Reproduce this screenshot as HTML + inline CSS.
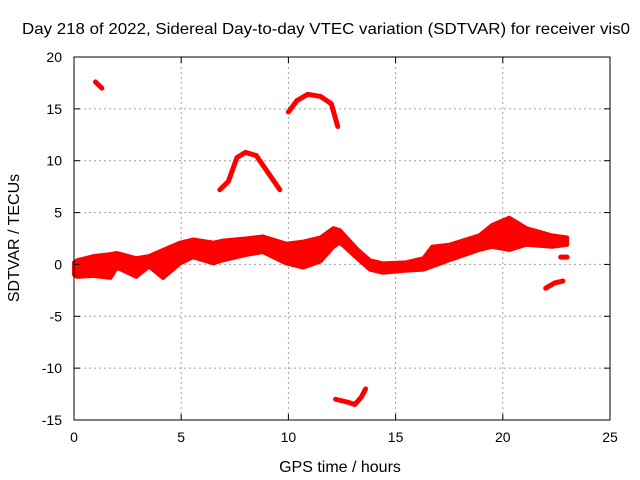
<!DOCTYPE html>
<html><head><meta charset="utf-8"><style>
body{margin:0;background:#fff}
svg{display:block;font-family:"Liberation Sans",sans-serif}
</style></head><body>
<svg id="chart" width="640" height="480">
<text x="326" y="34" font-size="16" text-anchor="middle" textLength="608" lengthAdjust="spacingAndGlyphs">Day 218 of 2022, Sidereal Day-to-day VTEC variation (SDTVAR) for receiver vis0</text>
<text x="340" y="472" font-size="16" text-anchor="middle">GPS time / hours</text>
<text transform="translate(19,238) rotate(-90)" font-size="16" text-anchor="middle">SDTVAR / TECUs</text>
<g id="grid"></g><g id="marks"></g><g id="axes"></g>
</svg>
<script>
const xTicks=[0,5,10,15,20,25];
const yTicks=[-15,-10,-5,0,5,10,15,20];
const bandHours=[0,0.14,0.9,1.7,2.0,2.9,3.5,4.15,4.95,5.55,6.5,6.95,8.0,8.8,9.9,10.7,11.5,12.1,12.4,13.2,13.8,14.4,15.5,16.3,16.7,17.5,18.9,19.5,20.3,21.1,22.3,23.0];
const bandUpper=[0.2,0.4,0.8,1.0,1.1,0.6,0.8,1.4,2.1,2.4,2.1,2.3,2.5,2.7,2.0,2.2,2.6,3.5,3.3,1.5,0.4,0.1,0.2,0.6,1.7,1.9,2.8,3.8,4.5,3.5,2.8,2.6];
const bandLower=[-1.0,-1.2,-1.1,-1.3,-0.3,-1.2,-0.2,-1.3,0.1,0.7,0.1,0.4,0.9,1.2,0.1,-0.3,0.3,1.7,2.1,0.6,-0.5,-0.8,-0.6,-0.5,-0.2,0.4,1.4,1.7,1.4,1.9,1.7,1.9];
const segAHours=[1.0,1.15,1.3];
const segAValues=[17.6,17.3,17.0];
const segBHours=[6.8,7.2,7.6,8.0,8.5,9.0,9.6];
const segBValues=[7.2,8.0,10.3,10.8,10.5,9.0,7.2];
const segCHours=[10.0,10.4,10.9,11.5,12.0,12.3];
const segCValues=[14.7,15.8,16.4,16.2,15.5,13.3];
const segDHours=[12.2,12.8,13.1,13.4,13.6];
const segDValues=[-13.0,-13.3,-13.5,-12.8,-12.0];
const segEHours=[22.0,22.4,22.8];
const segEValues=[-2.3,-1.8,-1.6];
const segFHours=[22.7,23.0];
const segFValues=[0.7,0.7];
const X0=74,X1=610,Y0=420,Y1=57;
const sx=h=>X0+(h-0)/(25-0)*(X1-X0);
const sy=v=>Y0-(v+15)/(35)*(Y0-Y1);
const NS="http://www.w3.org/2000/svg";
function mk(t,a,p){const e=document.createElementNS(NS,t);for(const k in a)e.setAttribute(k,a[k]);p.appendChild(e);return e;}
const grid=document.getElementById('grid'),axes=document.getElementById('axes'),marks=document.getElementById('marks');
xTicks.forEach(t=>{const x=sx(t);
 if(t>0&&t<25){const g=mk('line',{x1:x,x2:x,y1:Y1,y2:Y0,stroke:'#a0a0a0','stroke-dasharray':'2,3'},grid);
 
 }
 mk('line',{x1:x,x2:x,y1:Y0,y2:Y0-6,stroke:'#000'},axes);mk('line',{x1:x,x2:x,y1:Y1,y2:Y1+6,stroke:'#000'},axes);
 const l=mk('text',{x:x,y:Y0+22,'font-size':14,'text-anchor':'middle'},axes);l.textContent=t;
 
 });
yTicks.forEach(t=>{const y=sy(t);
 if(t>-15&&t<20){const g=mk('line',{x1:X0,x2:X1,y1:y,y2:y,stroke:'#a0a0a0','stroke-dasharray':'2,3'},grid);
 
 }
 mk('line',{x1:X0,x2:X0+6,y1:y,y2:y,stroke:'#000'},axes);mk('line',{x1:X1,x2:X1-6,y1:y,y2:y,stroke:'#000'},axes);
 const l=mk('text',{x:X0-12,y:y+5,'font-size':14,'text-anchor':'end'},axes);l.textContent=t;
 
 });
const b=mk('rect',{x:X0,y:Y1,width:X1-X0,height:Y0-Y1,fill:'none',stroke:'#000'},axes);


let pts=bandHours.map((h,i)=>sx(h)+','+sy(bandUpper[i]));
for(let i=bandHours.length-1;i>=0;i--)pts.push(sx(bandHours[i])+','+sy(bandLower[i]));
const band=mk('polygon',{points:pts.join(' '),fill:'#ff0000',stroke:'#ff0000','stroke-width':4,'stroke-linejoin':'round'},marks);


[[segAHours,segAValues,'segment-a'],[segBHours,segBValues,'segment-b'],[segCHours,segCValues,'segment-c'],[segDHours,segDValues,'segment-d'],[segEHours,segEValues,'segment-e'],[segFHours,segFValues,'segment-f']].forEach(s=>{
 const p=mk('polyline',{points:s[0].map((h,i)=>sx(h)+','+sy(s[1][i])).join(' '),fill:'none',stroke:'#ff0000','stroke-width':5,'stroke-linejoin':'round','stroke-linecap':'round'},marks);
 
 });
</script>
</body></html>
